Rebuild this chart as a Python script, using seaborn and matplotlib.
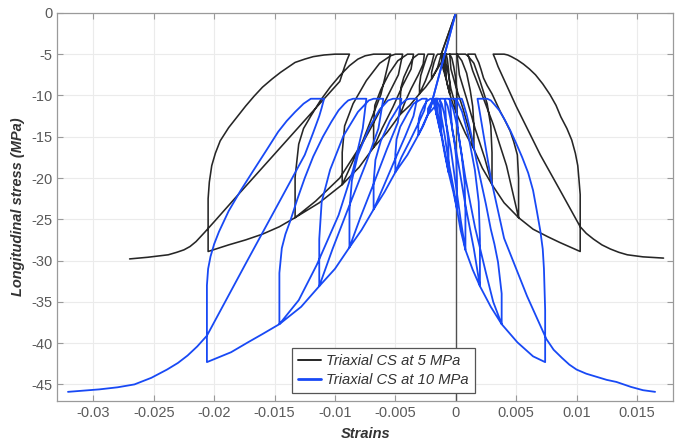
import pandas as pd
import matplotlib
matplotlib.use("Agg")
import matplotlib.pyplot as plt
from matplotlib.lines import Line2D
import seaborn as sns

# ---- Triaxial CS at 5 MPa : longitudinal strain (left branch) ----
cs5_long_strain = [0, -0.0012, -0.0015, -0.0020,
                   -0.0020, -0.0018, -0.0016, -0.0015, -0.0010,
                   -0.0012, -0.0020, -0.0025, -0.0030,
                   -0.0030, -0.0029, -0.0026, -0.0024, -0.0023, -0.0018,
                   -0.0020, -0.0025, -0.0030, -0.0038, -0.0046,
                   -0.0046, -0.00453, -0.0043, -0.0039, -0.00355, -0.0031, -0.0026,
                   -0.0027, -0.0031, -0.0037, -0.0042, -0.0046, -0.0057, -0.0068,
                   -0.0068, -0.0067, -0.0062, -0.0055, -0.0048, -0.0040, -0.0035,
                   -0.0037, -0.0044, -0.0052, -0.0061, -0.0068, -0.0080, -0.0094,
                   -0.0094, -0.0092, -0.0085, -0.0074, -0.0063, -0.0054, -0.0050, -0.0044,
                   -0.00475, -0.00575, -0.00705, -0.0084, -0.0094, -0.0113, -0.0133,
                   -0.0133, -0.0130, -0.0126, -0.0120, -0.0112, -0.0104, -0.0096, -0.0088, -0.0081, -0.0075, -0.0068, -0.0054,
                   -0.0062, -0.0078, -0.0096, -0.0116, -0.0133, -0.0146, -0.0160, -0.0174, -0.0188, -0.0205,
                   -0.0205, -0.0204, -0.0202, -0.0199, -0.0195, -0.0188, -0.0181, -0.0174, -0.0167, -0.0160,
                   -0.0152, -0.0145, -0.0139, -0.0133, -0.0125, -0.0118, -0.0109, -0.0100, -0.0088,
                   -0.0090, -0.0092, -0.0096, -0.0120, -0.0150, -0.0180, -0.0200, -0.0208, -0.0215, -0.0220,
                   -0.0225, -0.0231, -0.0238, -0.0255, -0.0270]
cs5_long_stress = [0, -5, -6.6, -8.0,
                   -7.2, -6.0, -5.2, -5.0, -5.0,
                   -6.0, -8.0, -9.0, -9.8,
                   -8.8, -7.6, -6.2, -5.3, -5.0, -5.0,
                   -6.2, -8.2, -9.8, -11.2, -12.3,
                   -10.5, -9.0, -7.8, -6.5, -5.5, -5.0, -5.0,
                   -6.2, -7.5, -9.2, -10.8, -12.3, -14.5, -16.3,
                   -13.5, -11.2, -9.3, -7.3, -5.8, -5.0, -5.0,
                   -6.8, -8.8, -11.4, -14.0, -16.3, -18.7, -20.8,
                   -16.9, -13.7, -11.0, -8.2, -6.1, -5.2, -5.0, -5.0,
                   -7.5, -10.4, -14.0, -17.6, -20.8, -23.0, -24.8,
                   -19.9, -15.9, -14.0, -12.5, -10.6, -9.0, -7.6, -6.4, -5.6, -5.2, -5.0, -5.0,
                   -9.9, -15.9, -20.0, -22.8, -24.8, -25.9, -26.8, -27.5, -28.1, -28.9,
                   -22.5, -20.5, -18.5, -17.0, -15.5, -13.9, -12.6, -11.3, -10.1, -9.0,
                   -8.0, -7.2, -6.6, -6.0, -5.6, -5.3, -5.1, -5.0, -5.0,
                   -5.7, -6.5, -8.3, -12.2, -17.1, -22.0, -25.3, -26.6, -27.7, -28.3,
                   -28.7, -29.0, -29.3, -29.6, -29.8]

# ---- Triaxial CS at 5 MPa : lateral strain (right branch) ----
cs5_lat_strain = [0, -0.0012, -0.0011, -0.0008,
                  -0.0008, -0.0009, -0.0010, -0.0011,
                  -0.0010, -0.0008, -0.0005,
                  -0.0005, -0.0006, -0.0007, -0.0008, -0.0010,
                  -0.0009, -0.0007, -0.0005, -0.0002, 0.0001,
                  0.0001, 0.00007, -0.00002, -0.00017, -0.00032, -0.0005, -0.0009,
                  -0.0008, -0.0006, -0.0004, -0.0001, 0.0001, 0.0008, 0.0015,
                  0.0015, 0.0014, 0.0012, 0.0009, 0.0005, 0.0001, -0.0005,
                  -0.0004, 0.0000, 0.0006, 0.0011, 0.0015, 0.0022, 0.0030,
                  0.0030, 0.0029, 0.0026, 0.0020, 0.0015, 0.0010, 0.0008, 0.0001,
                  0.0003, 0.0009, 0.0016, 0.0024, 0.0030, 0.0040, 0.0052,
                  0.0052, 0.0051, 0.0048, 0.0045, 0.0041, 0.0037, 0.0030, 0.0026, 0.0023, 0.0021,
                  0.0019, 0.0017, 0.0016, 0.0010,
                  0.0014, 0.0022, 0.0031, 0.0042, 0.0052, 0.0064, 0.0076, 0.0086, 0.0103,
                  0.0103, 0.0102, 0.0101, 0.0099, 0.0096, 0.0092, 0.0087, 0.0083, 0.0078, 0.0072,
                  0.0066, 0.0061, 0.0056, 0.0051, 0.0046, 0.0043, 0.0040, 0.0031,
                  0.0033, 0.0035, 0.0050, 0.0070, 0.0086, 0.0103, 0.0108, 0.0114, 0.0121, 0.0128,
                  0.0135, 0.0142, 0.0155, 0.0172]
cs5_lat_stress = [0, -5, -6.5, -8.0,
                  -7.2, -5.8, -5.0, -5.0,
                  -6.5, -8.0, -9.8,
                  -8.5, -6.8, -5.6, -5.0, -5.0,
                  -7.0, -8.7, -9.8, -11.2, -12.3,
                  -10.5, -9.0, -7.8, -6.5, -5.5, -5.0, -5.0,
                  -6.2, -7.5, -9.2, -10.8, -12.3, -14.6, -16.5,
                  -13.6, -11.3, -9.4, -7.3, -5.8, -5.0, -5.0,
                  -6.8, -8.9, -11.6, -14.2, -16.5, -18.8, -20.8,
                  -16.9, -13.7, -11.0, -8.2, -6.1, -5.2, -5.0, -5.0,
                  -7.5, -10.4, -14.0, -17.6, -20.8, -23.0, -24.8,
                  -20.0, -17.2, -15.6, -14.3, -13.1, -12.0, -9.8, -8.8, -7.9, -6.9,
                  -6.0, -5.4, -5.0, -5.0,
                  -7.0, -10.0, -13.5, -18.5, -24.8, -26.2, -27.1, -27.8, -28.9,
                  -22.0, -20.2, -18.5, -17.0, -15.4, -14.0, -12.6, -11.2, -9.9, -8.6,
                  -7.5, -6.8, -6.2, -5.7, -5.3, -5.1, -5.0, -5.0,
                  -5.7, -6.5, -11.3, -17.2, -21.4, -25.9, -26.7, -27.4, -28.1, -28.6,
                  -29.0, -29.3, -29.55, -29.7]

# ---- Triaxial CS at 10 MPa : longitudinal strain (left branch) ----
cs10_long_strain = [0, -0.0019, -0.0021, -0.0023,
                    -0.0023, -0.0020, -0.0017, -0.0015,
                    -0.0017, -0.0023, -0.0027, -0.0031,
                    -0.0031, -0.00305, -0.0029, -0.00265, -0.0024, -0.0021, -0.0019,
                    -0.0020, -0.0022, -0.0025, -0.0028, -0.0031, -0.0040, -0.0050,
                    -0.0050, -0.0049, -0.0046, -0.0040, -0.0035, -0.0028, -0.0024,
                    -0.0026, -0.0031, -0.0038, -0.0045, -0.0050, -0.0059, -0.0068,
                    -0.0068, -0.00665, -0.0062, -0.00545, -0.0047, -0.0041, -0.0038, -0.0032,
                    -0.0035, -0.0042, -0.0051, -0.0060, -0.0068, -0.0078, -0.0088,
                    -0.0088, -0.0086, -0.0081, -0.0072, -0.0063, -0.0056, -0.0052, -0.0045,
                    -0.0048, -0.0057, -0.0068, -0.0079, -0.0088, -0.0100, -0.0113,
                    -0.0113, -0.0111, -0.0104, -0.0093, -0.0081, -0.0072, -0.0068, -0.0060,
                    -0.0064, -0.0074, -0.0088, -0.0102, -0.0113, -0.0128, -0.0146,
                    -0.0146, -0.0144, -0.0141, -0.0137, -0.0131, -0.0125, -0.0118, -0.0110, -0.0103, -0.0097,
                    -0.0092, -0.0089, -0.0085, -0.0074,
                    -0.0077, -0.0085, -0.0097, -0.0115, -0.0130, -0.0146, -0.0160, -0.0172, -0.0186, -0.0206,
                    -0.0206, -0.0205, -0.0203, -0.0200, -0.0196, -0.0188, -0.0178, -0.0168, -0.0157, -0.0147,
                    -0.0140, -0.0133, -0.0126, -0.0120, -0.0109,
                    -0.0111, -0.0113, -0.0118, -0.0125, -0.0145, -0.0174, -0.0206, -0.0214, -0.0222, -0.0230,
                    -0.0239, -0.0252, -0.0266, -0.0280, -0.0295, -0.0321]
cs10_long_stress = [0, -10.4, -11.5, -12.3,
                    -11.6, -10.8, -10.4, -10.4,
                    -11.3, -12.3, -13.7, -14.8,
                    -13.7, -12.8, -12.1, -11.3, -10.7, -10.4, -10.4,
                    -11.1, -11.9, -12.9, -13.9, -14.8, -17.2, -19.3,
                    -17.1, -15.3, -13.8, -12.2, -11.0, -10.4, -10.4,
                    -11.8, -13.4, -15.5, -17.5, -19.3, -21.7, -23.8,
                    -20.5, -17.8, -15.5, -13.1, -11.3, -10.5, -10.4, -10.4,
                    -12.5, -15.0, -18.0, -21.1, -23.8, -26.3, -28.4,
                    -23.9, -20.3, -17.2, -14.0, -11.7, -10.6, -10.4, -10.4,
                    -13.3, -16.5, -20.7, -24.8, -28.4, -31.0, -33.1,
                    -27.4, -22.9, -19.0, -14.9, -12.0, -10.6, -10.4, -10.4,
                    -14.0, -18.1, -23.3, -28.6, -33.1, -35.6, -37.7,
                    -31.5, -28.5, -26.8, -25.2, -22.5, -20.0, -17.4, -15.0, -13.2, -11.8,
                    -11.0, -10.6, -10.4, -10.4,
                    -14.0, -19.0, -24.5, -30.5, -34.8, -37.7, -38.9, -39.9, -41.1, -42.3,
                    -33.0, -31.0, -29.5, -28.0, -26.5, -24.0, -21.5, -19.2, -16.7, -14.4,
                    -13.1, -12.0, -11.0, -10.4, -10.4,
                    -11.5, -12.5, -14.5, -17.2, -22.6, -30.4, -39.1, -40.4, -41.5, -42.4,
                    -43.2, -44.2, -45.0, -45.35, -45.6, -45.9]

# ---- Triaxial CS at 10 MPa : lateral strain (right branch) ----
cs10_lat_strain = [0, -0.0019, -0.0017, -0.0016,
                   -0.0016, -0.0017, -0.0018,
                   -0.0017, -0.0016, -0.0014, -0.0012,
                   -0.0012, -0.0013, -0.0014, -0.0016, -0.0017,
                   -0.0016, -0.0014, -0.0012, -0.0009, -0.0006,
                   -0.0006, -0.00064, -0.00076, -0.00096, -0.00116, -0.0014, -0.0016,
                   -0.00153, -0.00133, -0.00107, -0.00081, -0.0006, -0.0002, 0.0001,
                   0.0001, 0.00005, -0.00012, -0.0004, -0.00067, -0.0009, -0.0010, -0.0013,
                   -0.0012, -0.0009, -0.0006, -0.0002, 0.0001, 0.0004, 0.0008,
                   0.0008, 0.00073, 0.0005, 0.00017, -0.0002, -0.00046, -0.0006, -0.0009,
                   -0.0008, -0.0004, 0.0000, 0.0004, 0.0008, 0.0014, 0.0020,
                   0.0020, 0.0019, 0.00158, 0.00105, 0.00053, 0.0001, -0.0001, -0.0005,
                   -0.0003, 0.0002, 0.0008, 0.0015, 0.0020, 0.0029, 0.0038,
                   0.0038, 0.0035, 0.0032, 0.0029, 0.0025, 0.0021, 0.0017, 0.0014, 0.0011, 0.0009,
                   0.0007, 0.0006, 0.0005, 0.0000,
                   0.0002, 0.0008, 0.0016, 0.0025, 0.0031, 0.0038, 0.0051, 0.0064, 0.0074,
                   0.0074, 0.0073, 0.0072, 0.0070, 0.0067, 0.0064, 0.0060, 0.0055, 0.0050, 0.0045,
                   0.0040, 0.0036, 0.0032, 0.0029, 0.0026, 0.0018,
                   0.0021, 0.0029, 0.0040, 0.0059, 0.0075, 0.0081, 0.0088, 0.0094, 0.0100, 0.0108,
                   0.0117, 0.0125, 0.0133, 0.0145, 0.0155, 0.0165]
cs10_lat_stress = [0, -10.4, -11.5, -12.3,
                   -11.6, -10.8, -10.4,
                   -11.5, -12.3, -13.6, -14.8,
                   -13.7, -12.3, -11.2, -10.4, -10.4,
                   -12.0, -13.5, -14.8, -17.2, -19.3,
                   -17.1, -15.3, -13.8, -12.2, -11.0, -10.4, -10.4,
                   -11.8, -13.4, -15.5, -17.5, -19.3, -21.7, -23.8,
                   -20.5, -17.8, -15.5, -13.1, -11.3, -10.5, -10.4, -10.4,
                   -12.5, -15.0, -18.0, -21.1, -23.8, -26.3, -28.7,
                   -24.1, -20.5, -17.4, -14.1, -11.7, -10.6, -10.4, -10.4,
                   -13.3, -16.6, -20.8, -25.0, -28.7, -31.1, -33.1,
                   -27.4, -22.9, -19.0, -14.9, -12.0, -10.6, -10.4, -10.4,
                   -14.0, -18.1, -23.3, -28.6, -33.1, -35.6, -37.7,
                   -34.0, -30.2, -28.0, -26.2, -23.2, -20.5, -17.8, -15.5, -13.6, -12.3,
                   -11.3, -10.8, -10.4, -10.4,
                   -14.5, -20.0, -26.0, -31.5, -35.0, -37.7, -39.9, -41.6, -42.3,
                   -36.0, -31.0, -28.6, -26.4, -23.9, -21.5, -19.4, -17.5, -15.8, -14.2,
                   -12.8, -11.8, -11.1, -10.6, -10.4, -10.4,
                   -13.0, -20.0, -27.3, -34.3, -39.5, -40.8, -41.8, -42.6, -43.2, -43.7,
                   -44.1, -44.45, -44.7, -45.3, -45.7, -45.9]

labels = ["Triaxial CS at 5 MPa", "Triaxial CS at 10 MPa"]
colors = ["#262626", "#1849f5"]

frames = []
for name, branch, xs, ys in [(labels[0], "long", cs5_long_strain, cs5_long_stress),
                             (labels[0], "lat", cs5_lat_strain, cs5_lat_stress),
                             (labels[1], "long", cs10_long_strain, cs10_long_stress),
                             (labels[1], "lat", cs10_lat_strain, cs10_lat_stress)]:
    frames.append(pd.DataFrame({"strain": xs, "stress": ys, "case": name, "branch": branch}))
df = pd.concat(frames, ignore_index=True)

sns.set_style("whitegrid", {"grid.color": "#ebebeb", "axes.edgecolor": "#9a9a9a",
                            "xtick.direction": "in", "ytick.direction": "in"})
plt.rcParams["font.family"] = ["Liberation Sans", "DejaVu Sans"]
plt.rcParams["axes.unicode_minus"] = False

fig, ax = plt.subplots(figsize=(6.8, 4.44), dpi=100)
fig.subplots_adjust(left=0.084, right=0.99, bottom=0.097, top=0.971)

ax.axvline(0, color="#505050", lw=1.0, zorder=1)
for lab, col, lw in zip(labels, colors, [1.15, 1.3]):
    sns.lineplot(data=df[df["case"] == lab], x="strain", y="stress", units="branch",
                 estimator=None, sort=False, color=col, lw=lw, ax=ax, legend=False)

ax.set_xlim(-0.033, 0.018)
ax.set_ylim(-47, 0)
xt = [-0.03, -0.025, -0.02, -0.015, -0.01, -0.005, 0, 0.005, 0.01, 0.015]
ax.set_xticks(xt)
ax.set_xticklabels([f"{v:g}" for v in xt])
ax.set_yticks(range(-45, 1, 5))
ax.tick_params(colors="#9a9a9a", labelcolor="#5a5a5a", labelsize=10.5, length=4, width=0.8,
               top=True, right=True, left=True, bottom=True)
for s in ax.spines.values():
    s.set_linewidth(0.9)
ax.set_xlabel("Strains", fontweight="bold", fontstyle="italic", fontsize=10.5,
              color="#333333", labelpad=5)
ax.set_ylabel("Longitudinal stress (MPa)", fontweight="bold", fontstyle="italic",
              fontsize=10.5, color="#333333", labelpad=4)

handles = [Line2D([], [], color=c, lw=w) for c, w in zip(colors, [1.4, 2.0])]
leg = ax.legend(handles, labels, loc="lower left", bbox_to_anchor=(0.429, 0.114),
                bbox_transform=fig.transFigure, fancybox=False, framealpha=1,
                edgecolor="#555555", prop={"style": "italic", "size": 10.6},
                handlelength=1.6, handletextpad=0.35, borderpad=0.4, labelspacing=0.35,
                borderaxespad=0)
leg.get_frame().set_linewidth(0.9)
for t in leg.get_texts():
    t.set_color("#333333")

plt.savefig("out.png")
